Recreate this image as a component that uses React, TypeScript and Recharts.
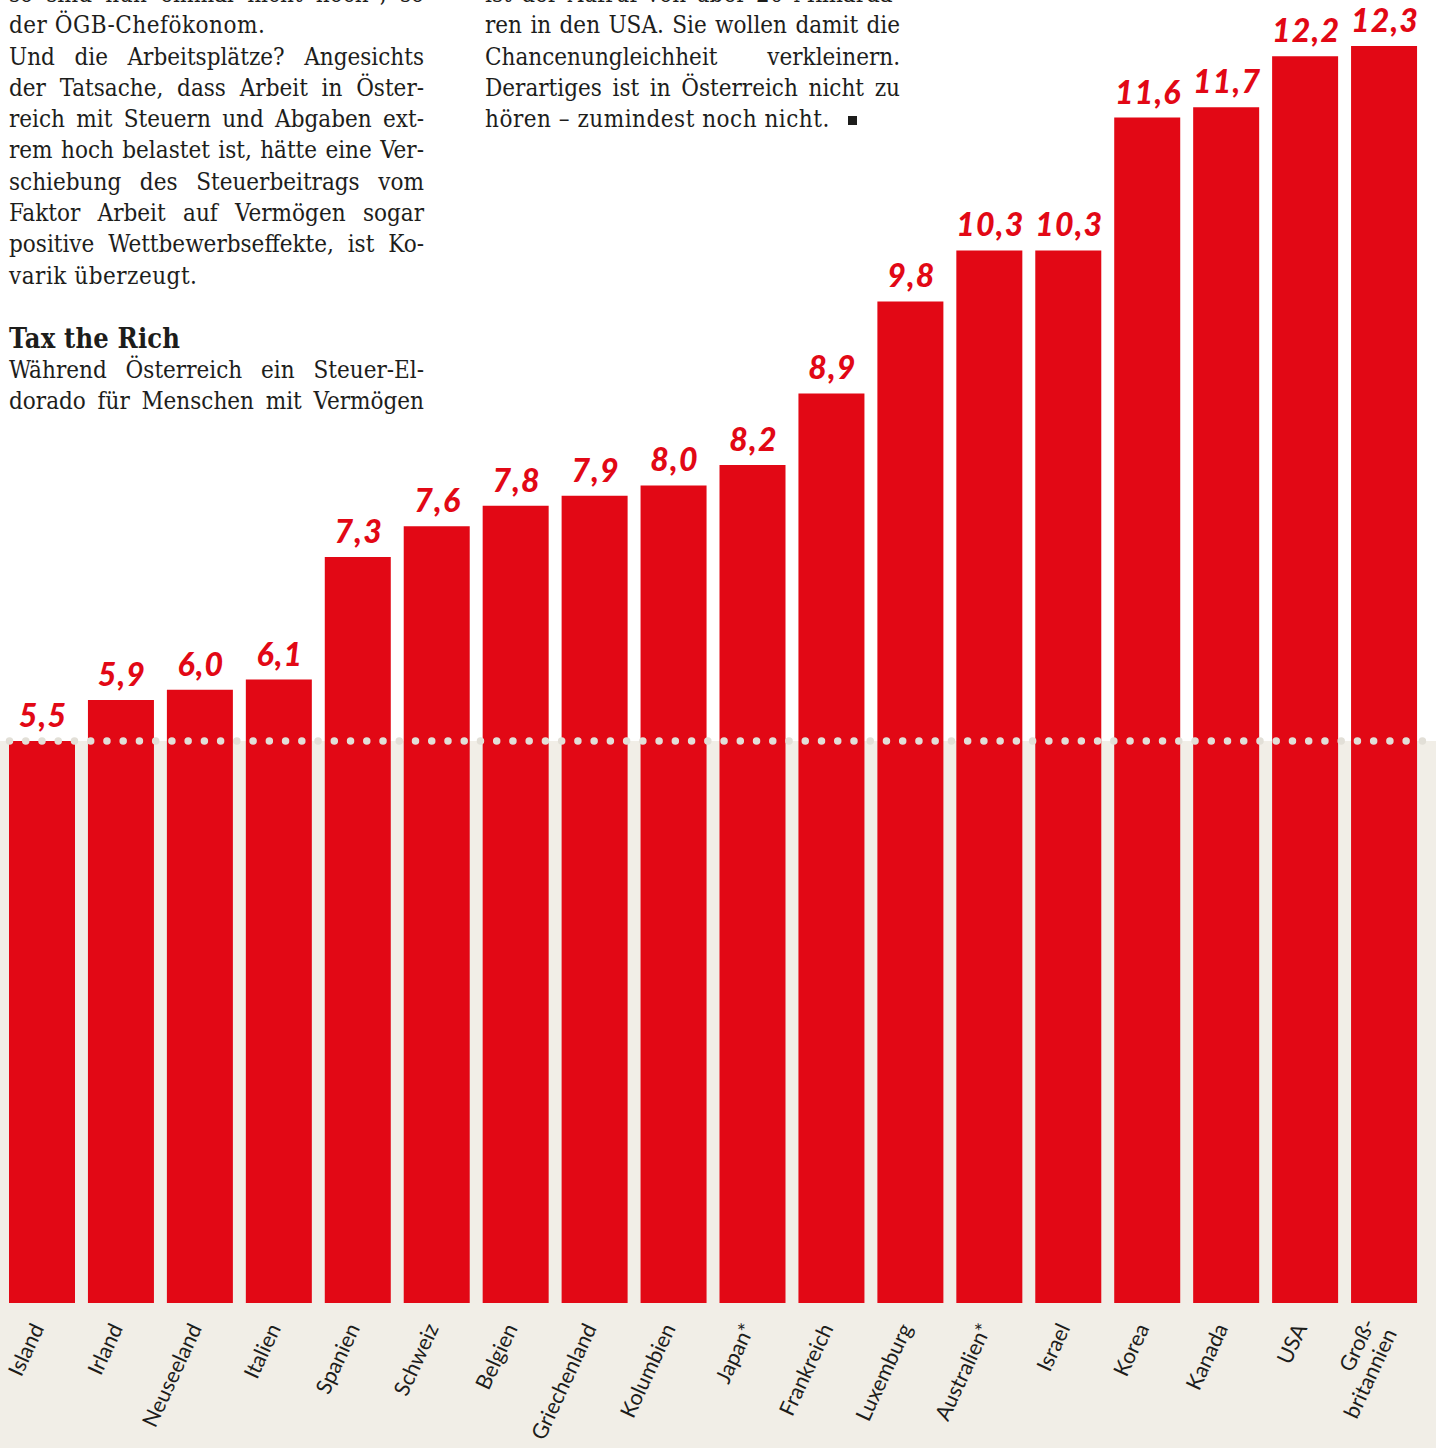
import React from "react";
import { BarChart, Bar, XAxis, YAxis, ReferenceLine, LabelList } from "recharts";

const RED = "#e20815";
const BEIGE = "#f1eee7";
const DOT = "#e2dfd7";
const INK = "#1d1d1b";

const countries = [
  "Island", "Irland", "Neuseeland", "Italien", "Spanien", "Schweiz", "Belgien", "Griechenland", "Kolumbien",
  "Japan*", "Frankreich", "Luxemburg", "Australien*", "Israel", "Korea", "Kanada", "USA", "Groß-\nbritannien",
];
const values = [5.5, 5.9, 6.0, 6.1, 7.3, 7.6, 7.8, 7.9, 8.0, 8.2, 8.9, 9.8, 10.3, 10.3, 11.6, 11.7, 12.2, 12.3];
const refLevel = 5.5;

// text columns: [line, justified]
const leftLines: [string, boolean][] = [
  ["so sind nun einmal nicht hoch“, so", true],
  ["der ÖGB-Chefökonom.", false],
  ["Und die Arbeitsplätze? Angesichts", true],
  ["der Tatsache, dass Arbeit in Öster-", true],
  ["reich mit Steuern und Abgaben ext-", true],
  ["rem hoch belastet ist, hätte eine Ver-", true],
  ["schiebung des Steuerbeitrags vom", true],
  ["Faktor Arbeit auf Vermögen sogar", true],
  ["positive Wettbewerbseffekte, ist Ko-", true],
  ["varik überzeugt.", false],
];
const leftLines2: [string, boolean][] = [
  ["Während Österreich ein Steuer-El-", true],
  ["dorado für Menschen mit Vermögen", true],
];
const rightLines: [string, boolean][] = [
  ["ist der Aufruf von über 20 Milliardä-", true],
  ["ren in den USA. Sie wollen damit die", true],
  ["Chancenungleichheit verkleinern.", true],
  ["Derartiges ist in Österreich nicht zu", true],
  ["hören – zumindest noch nicht.", false],
];

const data = countries.map((c, i) => ({ name: c, value: values[i] }));

const LH = 31.3;
const serif = "'DejaVu Serif Condensed', 'DejaVu Serif', serif";

function Line({ text, justify, children }: { text: string; justify: boolean; children?: React.ReactNode }) {
  if (!justify) {
    return (
      <div style={{ height: LH, lineHeight: LH + "px", whiteSpace: "nowrap", letterSpacing: 0.5 }}>
        {text}
        {children}
      </div>
    );
  }
  return (
    <div style={{ height: LH, lineHeight: LH + "px", display: "flex", justifyContent: "space-between", whiteSpace: "nowrap" }}>
      {text.split(" ").map((w, i) => <span key={i} style={{ flexShrink: 0 }}>{w}</span>)}
    </div>
  );
}

function ValueLabel(props: any) {
  const { x, y, width, value } = props;
  return (
    <text x={x + width / 2 + 1} y={y - 14} textAnchor="middle" fill={RED}
      style={{ fontFamily: "Lato", fontWeight: 900, fontStyle: "italic", fontSize: 32, letterSpacing: 1.2 }}>
      {Number(value).toFixed(1).replace(".", ",")}
    </text>
  );
}

function CountryTick(props: any) {
  const { x, y, payload } = props;
  const lines = String(payload.value).split("\n");
  const ax = x + 2;
  const ay = y + 25;
  return (
    <text x={ax} y={ay} textAnchor="end" transform={`rotate(-65 ${ax} ${ay})`} fill={INK}
      style={{ fontFamily: "Lato", fontSize: 21.5 }}>
      {lines.map((l, i) => (
        <tspan key={i} x={ax} dy={i === 0 ? -(lines.length - 1) * 12 : 24}>{l}</tspan>
      ))}
    </text>
  );
}

export default function App() {
  return (
    <div style={{
      position: "absolute", left: 0, top: 0, width: 1436, height: 1448, overflow: "hidden",
      background: `linear-gradient(to bottom, #ffffff 0px, #ffffff 741px, ${BEIGE} 741px, ${BEIGE} 100%)`,
    }}>
      <div style={{ position: "absolute", left: 0, top: 0 }}>
        <BarChart width={1436} height={1448} data={data} margin={{ top: 0, right: 12, bottom: 0, left: 3 }}>
          <XAxis dataKey="name" height={145} axisLine={false} tickLine={false} tickSize={0} tickMargin={0}
            interval={0} tick={<CountryTick />} />
          <YAxis hide domain={[0, 12.75]} />
          <Bar dataKey="value" fill={RED} barSize={66} isAnimationActive={false}>
            <LabelList dataKey="value" content={<ValueLabel />} />
          </Bar>
          <ReferenceLine y={refLevel} stroke={DOT} strokeWidth={7.5} strokeLinecap="round"
            strokeDasharray="0 16.24" strokeDashoffset={9.74} ifOverflow="visible" />
        </BarChart>
      </div>

      <div style={{ position: "absolute", left: 9, top: -21, width: 415, fontFamily: serif, fontSize: 24, color: INK }}>
        {leftLines.map(([t, j], i) => <Line key={i} text={t} justify={j} />)}
        <div style={{ height: LH }} />
        <div style={{ height: LH, lineHeight: LH + "px", fontWeight: 700, fontSize: 27, letterSpacing: 0.2 }}>Tax the Rich</div>
        {leftLines2.map(([t, j], i) => <Line key={i} text={t} justify={j} />)}
      </div>

      <div style={{ position: "absolute", left: 485, top: -21, width: 415, fontFamily: serif, fontSize: 24, color: INK }}>
        {rightLines.map(([t, j], i) => (
          <Line key={i} text={t} justify={j}>
            {!j && <span style={{ display: "inline-block", width: 9, height: 9, background: INK, marginLeft: 18, verticalAlign: 2 }} />}
          </Line>
        ))}
      </div>
    </div>
  );
}
